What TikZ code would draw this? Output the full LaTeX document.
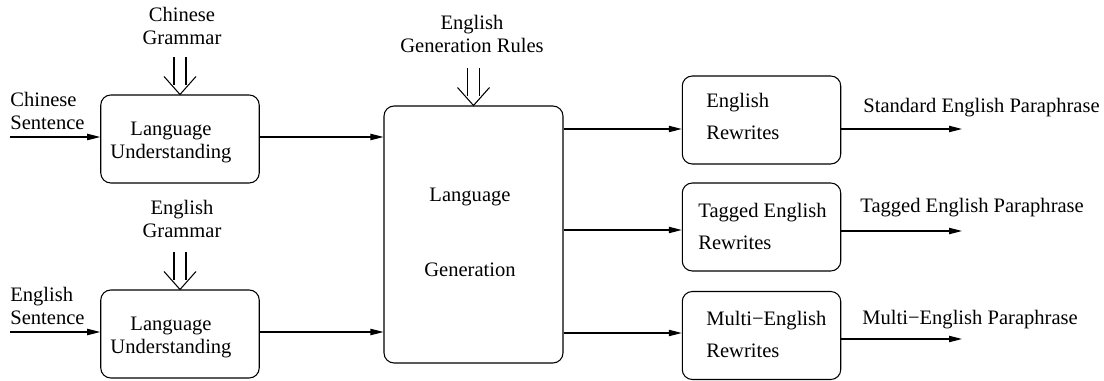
\documentclass[tikz,border=0pt]{standalone}
\usepackage{fontspec}
\setmainfont{Liberation Serif}
\usepackage{tikz}
\usetikzlibrary{arrows.meta,positioning}
\tikzset{>={Triangle[length=7.4pt,width=3.6pt]}}
\tikzset{
    box/.style={rectangle,draw,rounded corners=2mm,line width=0.6pt},
    smallbox/.style={box,minimum width=3.17cm,minimum height=1.76cm},
    txt/.style={rectangle,draw=none,inner sep=0pt,font=\fontsize{11.7}{12.6}\selectfont},
    flow/.style={->,line width=0.6pt},
    feedline/.style={line width=0.6pt},
}

\begin{document}
\begin{tikzpicture}[x=0.02cm,y=-0.02cm]
		\useasboundingbox (0,0) rectangle (1104,381);
		% boxes
		\node[smallbox] (lu1) at (180,139) {};
		\node[smallbox] (lu2) at (180,334) {};
		\node[box,minimum width=3.58cm,minimum height=5.14cm] (gen) at (473.5,234.5) {};
		\node[smallbox] (r1) at (761.5,120) {};
		\node[smallbox] (r2) at (761.5,227) {};
		\node[smallbox] (r3) at (761.5,335.5) {};
	
		% texts
		\node[txt,align=center] (lu1t) at (171,142.5) {Language\\Understanding};
		\node[txt,align=center] (lu2t) at (171,337.5) {Language\\Understanding};
		\node[txt,align=center] (gent) at (470,232.5) {Language\\[30.5pt]Generation};
		\node[txt,align=left,anchor=west] (r1t) at (706,116) {English\\[5.6pt]Rewrites};
		\node[txt,align=left,anchor=west] (r2t) at (698,226) {Tagged English\\[5.6pt]Rewrites};
		\node[txt,align=left,anchor=west] (r3t) at (706,334.5) {Multi−English\\[5.6pt]Rewrites};
		\node[txt,align=center] (cgram) at (182,26) {Chinese\\Grammar};
		\node[txt,align=center] (egram) at (182,219) {English\\Grammar};
		\node[txt,align=center] (grules) at (472,34) {English\\Generation Rules};
		\node[txt,align=left,anchor=west] (csent) at (10,111) {Chinese\\Sentence};
		\node[txt,align=left,anchor=west] (esent) at (10,306) {English\\Sentence};
		\node[txt,anchor=west] (o1t) at (863,108) {Standard English Paraphrase};
		\node[txt,anchor=west] (o2t) at (860,208) {Tagged English Paraphrase};
		\node[txt,anchor=west] (o3t) at (862,320) {Multi−English Paraphrase};
	
		\coordinate (s1) at (10,137);
		\coordinate (s2) at (10,332);
		\coordinate (o1) at (962,129);
		\coordinate (o2) at (962,231);
		\coordinate (o3) at (962,339);
	
		% rule inputs
		\foreach \b in {lu1,lu2,gen}{
			\draw[feedline] ([xshift=-0.12cm]\b.north) ++(0,-37) -- ++(0,28);
			\draw[feedline] ([xshift=0.12cm]\b.north) ++(0,-37) -- ++(0,28);
			\draw[feedline] ([shift={(-16,-18)}]\b.north) -- (\b.north) -- ++(16,-18);
		}
	
		\draw[flow] (s1) -- (lu1.west |- s1);
		\draw[flow] (s2) -- (lu2.west |- s2);
		\draw[flow] (lu1.east |- s1) -- (gen.west |- s1);
		\draw[flow] (lu2.east |- s2) -- (gen.west |- s2);
		\draw[flow] (gen.east |- o1) -- (r1.west |- o1);
		\draw[flow] (gen.east |- 0,230) -- (r2.west |- 0,230);
		\draw[flow] (gen.east |- 0,333) -- (r3.west |- 0,333);
		\draw[flow] (r1.east |- o1) -- (o1);
		\draw[flow] (r2.east |- o2) -- (o2);
		\draw[flow] (r3.east |- o3) -- (o3);
	\end{tikzpicture}
\end{document}
